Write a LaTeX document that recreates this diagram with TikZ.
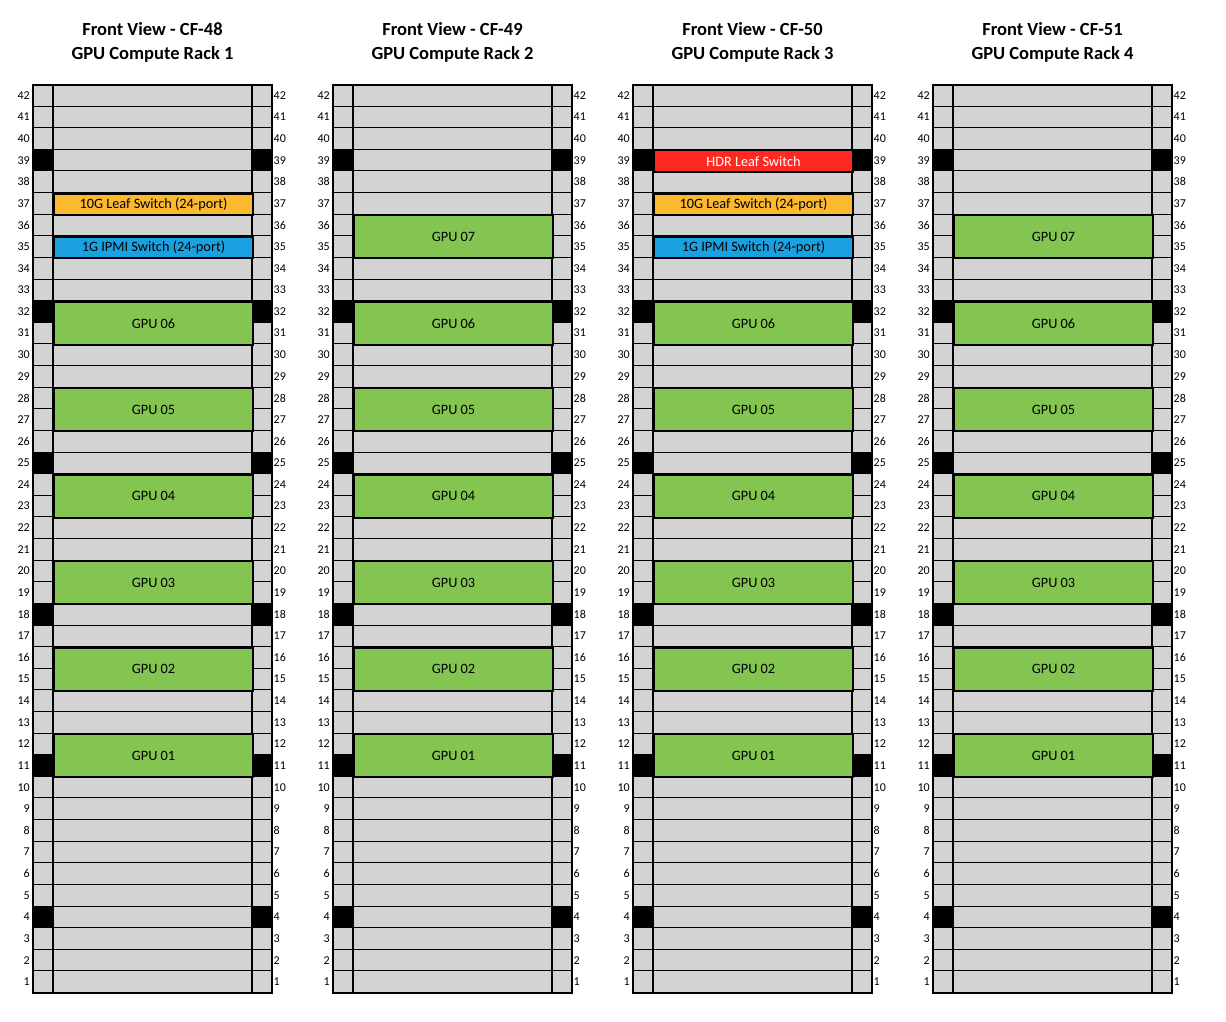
\documentclass[tikz,border=0pt]{standalone}
\usepackage{fontspec}
\setmainfont{Carlito}
\definecolor{slotgray}{RGB}{211,211,211}
\definecolor{gpugreen}{RGB}{131,197,80}
\definecolor{leaforange}{RGB}{251,185,46}
\definecolor{ipmiblue}{RGB}{27,161,226}
\definecolor{hdrred}{RGB}{255,41,33}
\begin{document}
\begin{tikzpicture}[x=1pt,y=-1pt,
  title/.style={font=\fontsize{18.5}{22}\selectfont\bfseries, anchor=base, inner sep=0pt},
  unitnum/.style={font=\fontsize{12}{14}\selectfont, inner sep=0pt},
  slot/.style={draw=black, line width=1pt, fill=slotgray},
  devbox/.style={draw=black, line width=2pt, minimum width=199pt, minimum height=21.62pt,
    inner sep=0pt, anchor=north west, font=\fontsize{14.3}{16}\selectfont},
  gpu/.style={devbox, fill=gpugreen, minimum height=43.24pt},
  leaf/.style={devbox, fill=leaforange},
  ipmi/.style={devbox, fill=ipmiblue},
  hdr/.style={devbox, fill=hdrred, text=white},
]
\useasboundingbox (0,0) rectangle (1226,1021);

\foreach \r/\cf/\num in {0/48/1, 1/49/2, 2/50/3, 3/51/4} {
  \pgfmathsetmacro\ox{300*\r}
  \begin{scope}[xshift={\ox pt}]
    % headings
    \node[title] (head\num a) at (152.5,35.2) {Front View - CF-\cf};
    \node[title] (head\num b) at (152.5,59.4) {GPU Compute Rack \num};
    % rack units: left rail, mounting space, right rail
    \foreach \u in {1,...,42} {
      \pgfmathsetmacro\yt{84.5+(42-\u)*21.62}
      \draw[slot] (33,\yt) rectangle (272,\yt+21.62);
      \node[unitnum, anchor=east] (ln\num-\u) at (30,\yt+10.81) {\u};
      \node[unitnum, anchor=west] (rn\num-\u) at (273.5,\yt+10.81) {\u};
    }
    % blocked rail positions
    \foreach \u in {39,32,25,18,11,4} {
      \pgfmathsetmacro\yt{84.5+(42-\u)*21.62}
      \fill[black] (33,\yt) rectangle (53,\yt+21.62);
      \fill[black] (252,\yt) rectangle (272,\yt+21.62);
    }
    % rail dividers and frame
    \draw[line width=2pt] (53,84.5) -- (53,992.5) (252,84.5) -- (252,992.5);
    \draw[line width=2pt] (33,84.5) rectangle (272,992.5);
    % GPU servers common to every rack
    \foreach \g/\u in {06/32, 05/28, 04/24, 03/20, 02/16, 01/12} {
      \node[gpu] (r\num-gpu\g) at (53,{84.5+(42-\u)*21.62}) {GPU \g};
    }
  \end{scope}
}

% rack-specific equipment
\node[leaf] (r1-leaf) at (53,192.6) {10G Leaf Switch (24-port)};
\node[ipmi] (r1-ipmi) at (53,235.84) {1G IPMI Switch (24-port)};

\node[gpu] (r2-gpu07) at (353,214.22) {GPU 07};

\node[hdr] (r3-hdr) at (653,149.36) {HDR Leaf Switch};
\node[leaf] (r3-leaf) at (653,192.6) {10G Leaf Switch (24-port)};
\node[ipmi] (r3-ipmi) at (653,235.84) {1G IPMI Switch (24-port)};

\node[gpu] (r4-gpu07) at (953,214.22) {GPU 07};
\end{tikzpicture}
\end{document}
